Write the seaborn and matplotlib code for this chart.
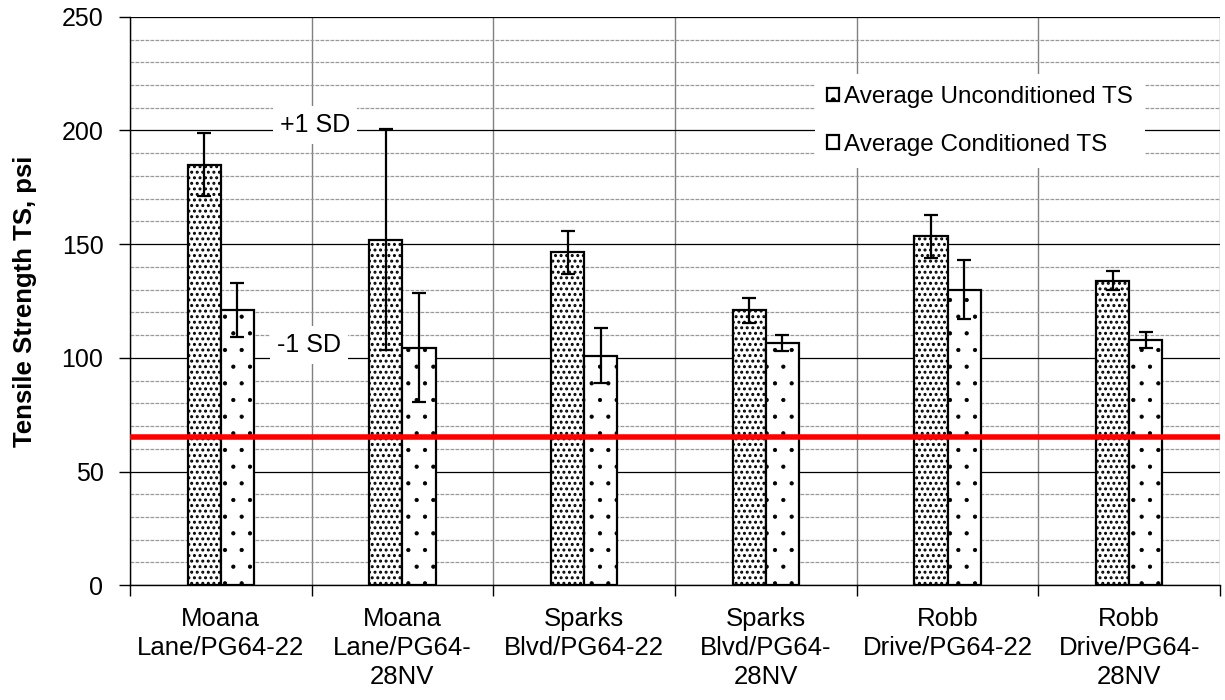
import matplotlib
matplotlib.use('Agg')
import matplotlib.pyplot as plt
import pandas as pd
import seaborn as sns
from matplotlib.patches import Patch
from matplotlib.ticker import MultipleLocator, FixedLocator

# Data
mixes = ['Moana\nLane/PG64-22', 'Moana\nLane/PG64-\n28NV', 'Sparks\nBlvd/PG64-22',
         'Sparks\nBlvd/PG64-\n28NV', 'Robb\nDrive/PG64-22', 'Robb\nDrive/PG64-\n28NV']
uncond_ts = [185, 152, 146.5, 121, 153.5, 134]
uncond_sd = [14, 48.5, 9.5, 5.5, 9.5, 4]
cond_ts = [121, 104.5, 101, 106.5, 130, 108]
cond_sd = [12, 24, 12, 3.5, 13, 3.5]
series = ['Average Unconditioned TS', 'Average Conditioned TS']
min_ts = 65

df = pd.DataFrame({
    'mix': mixes * 2,
    'ts': uncond_ts + cond_ts,
    'sd': uncond_sd + cond_sd,
    'series': [series[0]] * 6 + [series[1]] * 6,
})

sns.set_style('white')
plt.rcParams['font.family'] = ['Liberation Sans', 'DejaVu Sans']
plt.rcParams['hatch.linewidth'] = 1.4
plt.rcParams['text.color'] = 'black'
plt.rcParams['axes.labelcolor'] = 'black'
plt.rcParams['xtick.color'] = 'black'
plt.rcParams['ytick.color'] = 'black'

fig = plt.figure(figsize=(12.25, 7), dpi=100)
ax = fig.add_axes([0.106, 0.164, 0.89, 0.812])

sns.barplot(data=df, x='mix', y='ts', hue='series', hue_order=series,
            palette=['white', 'white'], edgecolor='black', linewidth=1.6,
            width=0.365, gap=0, errorbar=None, saturation=1, legend=False, ax=ax)

hatches = ['...', '.']
hatch_lw = [1.4, 0.6]
sds = [uncond_sd, cond_sd]
bar_groups = list(ax.containers)
for k, cont in enumerate(bar_groups):
    xs = []
    ys = []
    for bar in cont.patches:
        bar.set_hatch(hatches[k])
        if hasattr(bar, 'set_hatch_linewidth'):
            bar.set_hatch_linewidth(hatch_lw[k])
        xs.append(bar.get_x() + bar.get_width() / 2)
        ys.append(bar.get_height())
    ax.errorbar(xs, ys, yerr=sds[k], fmt='none', ecolor='black',
                elinewidth=1.6, capsize=5, capthick=1.6, zorder=5)

ax.axhline(min_ts, color='#ff0000', lw=4, zorder=4)

ax.set_ylim(0, 250)
ax.set_xlim(-0.5, 5.5)
ax.yaxis.set_major_locator(MultipleLocator(50))
ax.yaxis.set_minor_locator(MultipleLocator(10))
ax.xaxis.set_minor_locator(FixedLocator([i - 0.5 for i in range(7)]))
ax.grid(True, which='major', axis='y', color='black', lw=0.9)
ax.grid(True, which='minor', axis='y', color='#999999', lw=0.9, ls=(0, (3, 1)))
ax.grid(True, which='minor', axis='x', color='#808080', lw=1)
ax.set_axisbelow(True)

ax.tick_params(axis='y', which='major', direction='out', length=8, width=1,
               color='black', labelcolor='black', left=True, labelsize=18, pad=11)
ax.tick_params(axis='y', which='minor', left=False)
ax.tick_params(axis='x', which='major', length=0, labelsize=18.5, pad=16,
               labelcolor='black')
ax.tick_params(axis='x', which='minor', direction='out', length=8, width=1,
               color='black', bottom=True)
for lbl in ax.get_xticklabels():
    lbl.set_linespacing(1.25)

for side in ['top', 'right']:
    ax.spines[side].set_visible(False)
for side in ['left', 'bottom']:
    ax.spines[side].set_color('black')
    ax.spines[side].set_linewidth(1)

ax.set_xlabel('')
ax.set_ylabel('Tensile Strength TS, psi', fontsize=18.5, fontweight='bold',
              labelpad=18, color='black')

ax.text(0.518, 202.5, '+1 SD', fontsize=18, ha='center', va='center', zorder=6,
        color='black', bbox=dict(facecolor='white', edgecolor='none', pad=5))
ax.text(0.485, 105.6, '-1 SD', fontsize=18, ha='center', va='center', zorder=6,
        color='black', bbox=dict(facecolor='white', edgecolor='none', pad=5))

handles = [Patch(facecolor='white', edgecolor='black', hatch=h, lw=1.6) for h in ['.', '']]
leg = ax.legend(handles, series, loc='center', bbox_to_anchor=(0.78, 0.817),
                fontsize=17.5, frameon=True, fancybox=False, edgecolor='none',
                framealpha=1, handlelength=0.5, handleheight=0.5, handletextpad=0.2,
                labelspacing=1.05, borderpad=0.5, borderaxespad=0, labelcolor='black')

fig.savefig('out.png', dpi=100)
